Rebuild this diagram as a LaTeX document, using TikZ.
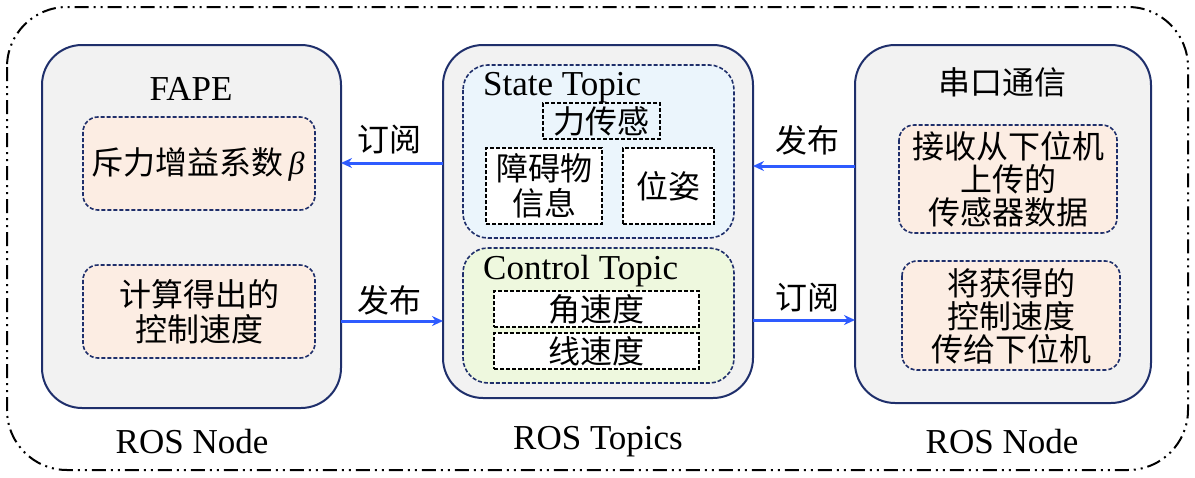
\documentclass[tikz,border=0pt]{standalone}
\usepackage{fontspec}
\setmainfont{Liberation Serif}
\newfontfamily\cjk{Noto Sans CJK SC}
\usetikzlibrary{arrows.meta}
\definecolor{navy}{HTML}{1F2F6B}
\definecolor{nodegray}{HTML}{F2F2F2}
\definecolor{peach}{HTML}{FCEDE3}
\definecolor{lblue}{HTML}{EBF5FC}
\definecolor{lgreen}{HTML}{EEF8DE}
\definecolor{arrowblue}{HTML}{2E5BFF}
\begin{document}
\begin{tikzpicture}[x=1pt,y=-1pt,
  outerbox/.style={draw=black, line width=2pt, rounded corners=60pt,
    dash pattern=on 14pt off 5pt on 2pt off 5pt on 2pt off 5pt},
  rosnode/.style={draw=navy, line width=2pt, fill=nodegray, rounded corners=40pt},
  innerbox/.style={draw=navy, line width=1.6pt, dash pattern=on 4pt off 2pt, fill=peach, rounded corners=15pt},
  topicbox/.style={draw=navy, line width=1.6pt, dash pattern=on 4pt off 2pt, rounded corners=25pt},
  itembox/.style={draw=black, line width=1.5pt, dash pattern=on 4pt off 2pt, fill=white},
  cjktext/.style={font=\cjk\fontsize{32}{35}\selectfont, align=center, inner sep=0pt},
  lattext/.style={font=\fontsize{35}{38}\selectfont, inner sep=0pt},
  conn/.style={draw=arrowblue, line width=3pt, -{Stealth[length=11pt,width=10pt]}}
]
\useasboundingbox (0,0) rectangle (1195,477);
\draw[outerbox] (7,7) rectangle (1188,470);

% Left ROS node
\draw[rosnode] (42,45) rectangle (341,408);
\coordinate (L1) at (341,163);
\coordinate (L2) at (341,321);
\node[lattext] (fape) at (191,89) {FAPE};
\draw[innerbox] (83,117) rectangle (315,210);
\node[cjktext] (beta) at (198,164) {斥力增益系数\hspace{5pt}{\fontspec{Liberation Serif}\itshape β}};
\draw[innerbox] (83,265) rectangle (315,358);
\node[cjktext] (calc) at (199,312) {计算得出的\\控制速度};
\node[lattext] (rosl) at (192,442) {ROS Node};

% Middle ROS topics
\draw[rosnode] (443,45) rectangle (753,398);
\coordinate (M1) at (443,163);
\coordinate (M2) at (443,321);
\coordinate (M3) at (753,166);
\coordinate (M4) at (753,320);
\draw[topicbox, fill=lblue] (463,65) rectangle (734,238);
\node[lattext, anchor=west] (state) at (483,88) {State Topic};
\node[itembox, fill=none, minimum width=117pt, minimum height=36pt, inner sep=0pt] (force) at (601.5,121) {};
\node[cjktext] (forcet) at (601.5,121) {力传感};
\node[itembox, minimum width=116pt, minimum height=76pt, inner sep=0pt] (obs) at (544,186) {};
\node[cjktext] (obst) at (544,186) {障碍物\\信息};
\node[itembox, minimum width=91pt, minimum height=76pt, inner sep=0pt] (pose) at (668.5,186) {};
\node[cjktext] (poset) at (668.5,186) {位姿};
\draw[topicbox, fill=lgreen] (463,248) rectangle (734,383);
\node[lattext, anchor=west] (control) at (483,271) {Control Topic};
\node[itembox, minimum width=205pt, minimum height=36pt, inner sep=0pt] (ang) at (596.5,309) {};
\node[cjktext] (angt) at (596.5,309) {角速度};
\node[itembox, minimum width=205pt, minimum height=36pt, inner sep=0pt] (lin) at (596.5,351) {};
\node[cjktext] (lint) at (596.5,351) {线速度};
\node[lattext] (rosm) at (598,442) {ROS Topics};

% Right ROS node
\draw[rosnode] (855,45) rectangle (1151,403);
\coordinate (R1) at (855,166);
\coordinate (R2) at (855,320);
\node[cjktext] (serial) at (1002,82) {串口通信};
\draw[innerbox] (899,125) rectangle (1117,233);
\node[cjktext, font=\cjk\fontsize{32}{33}\selectfont] (recv) at (1008,179) {接收从下位机\\上传的\\传感器数据};
\draw[innerbox] (902,261) rectangle (1120,370);
\node[cjktext, font=\cjk\fontsize{32}{33}\selectfont] (send) at (1011,316) {将获得的\\控制速度\\传给下位机};
\node[lattext] (rosr) at (1002,442) {ROS Node};

% Connectors
\draw[conn] (M1) -- (L1);
\draw[conn] (L2) -- (M2);
\draw[conn] (R1) -- (M3);
\draw[conn] (M4) -- (R2);
\node[cjktext] (sub1) at (389,140) {订阅};
\node[cjktext] (pub1) at (389,300) {发布};
\node[cjktext] (pub2) at (807,140) {发布};
\node[cjktext] (sub2) at (807,298) {订阅};
\end{tikzpicture}
\end{document}
